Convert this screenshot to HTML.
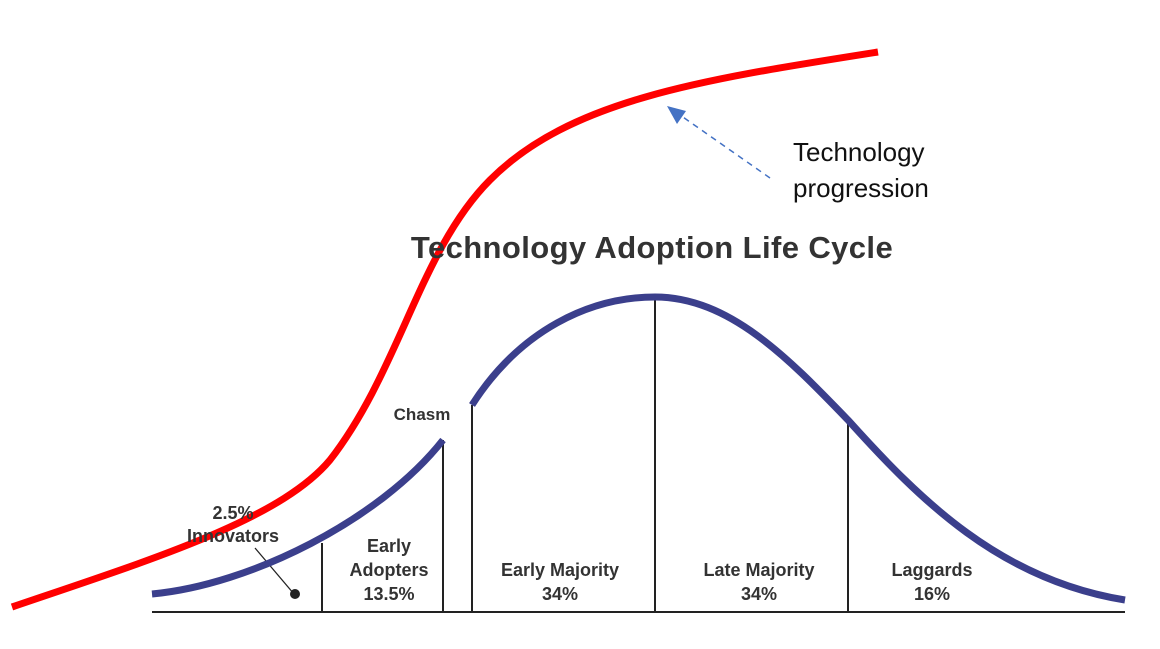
<!DOCTYPE html>
<html><head><style>body{margin:0;background:#fff}svg{display:block}</style></head><body>
<svg width="1160" height="649" xmlns="http://www.w3.org/2000/svg">
<g stroke="#222" stroke-width="2" fill="none">
<line x1="152" y1="612" x2="1125" y2="612"/>
<line x1="322" y1="543" x2="322" y2="612"/>
<line x1="443" y1="440" x2="443" y2="612"/>
<line x1="472" y1="405" x2="472" y2="612"/>
<line x1="655" y1="297" x2="655" y2="612"/>
<line x1="848" y1="420" x2="848" y2="612"/>
<line x1="255" y1="548" x2="294" y2="594" stroke-width="1.3"/>
</g>
<circle cx="295" cy="594" r="5" fill="#222"/>
<g stroke="#3b3f8c" stroke-width="7" fill="none">
<path d="M152,594 C250,585 380,520 443,440"/>
<path d="M472,405 C520,330 590,297 655,297 C730,297 790,360 848,420 C920,500 1000,580 1125,600"/>
</g>
<path d="M12,607 C150,560 280,520 330,460 C400,370 420,250 490,180 C570,100 700,80 878,52" stroke="#f00" stroke-width="7" fill="none"/>
<line x1="770" y1="178" x2="680" y2="115" stroke="#4472c4" stroke-width="1.5" stroke-dasharray="6,5"/>
<polygon points="667,106 686,111 677,124" fill="#4472c4"/>
<g font-family="Liberation Sans, sans-serif" fill="#333" font-weight="bold" text-anchor="middle">
<text x="652" y="258" font-size="31" letter-spacing="0.4">Technology Adoption Life Cycle</text>
<text x="422" y="420" font-size="17">Chasm</text>
<text x="233" y="519" font-size="18">2.5%</text>
<text x="233" y="542" font-size="18">Innovators</text>
<text x="389" y="552" font-size="18">Early</text>
<text x="389" y="576" font-size="18">Adopters</text>
<text x="389" y="600" font-size="18">13.5%</text>
<text x="560" y="576" font-size="18">Early Majority</text>
<text x="560" y="600" font-size="18">34%</text>
<text x="759" y="576" font-size="18">Late Majority</text>
<text x="759" y="600" font-size="18">34%</text>
<text x="932" y="576" font-size="18">Laggards</text>
<text x="932" y="600" font-size="18">16%</text>
</g>
<g font-family="Liberation Sans, sans-serif" fill="#111" font-size="26">
<text x="793" y="161">Technology</text>
<text x="793" y="197">progression</text>
</g>
</svg>
</body></html>
